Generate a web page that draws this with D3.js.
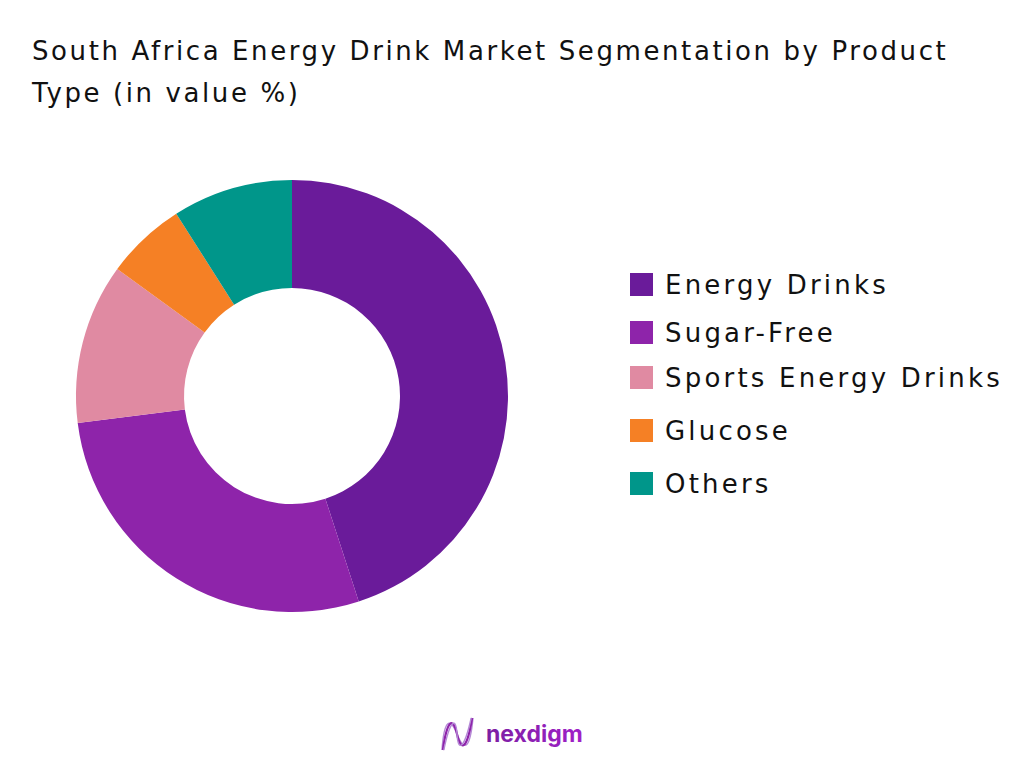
<!DOCTYPE html>
<html>
<head>
<meta charset="utf-8">
<script src="https://cdn.jsdelivr.net/npm/d3@7"></script>
<style>
  body { margin: 0; background: #fff; }
  svg { display: block; font-family: "DejaVu Sans", "Noto Sans", sans-serif; }
</style>
</head>
<body>
<div id="chart"></div>
<script>
// data
const categories = ["Energy Drinks", "Sugar-Free", "Sports Energy Drinks", "Glucose", "Others"];
const values = [45, 28, 12, 6, 9];
const colors = ["#6a1b9a", "#8e24aa", "#e08aa2", "#f58025", "#00968a"];
const titleLines = ["South Africa Energy Drink Market Segmentation by Product", "Type (in value %)"];

const width = 1024,
  height = 768;

const svg = d3
  .select("#chart")
  .append("svg")
  .attr("width", width)
  .attr("height", height);

// title
svg
  .selectAll("text.title")
  .data(titleLines)
  .enter()
  .append("text")
  .attr("class", "title")
  .attr("x", 32)
  .attr("y", (d, i) => 60 + i * 42)
  .style("font-size", "26px")
  .style("letter-spacing", "2.6px")
  .style("fill", "#111")
  .text((d) => d);

// donut
const color = d3.scaleOrdinal().domain(categories).range(colors);

const pie = d3.pie().sort(null).value((d) => d[1]);
const data_ready = pie(categories.map((c, i) => [c, values[i]]));

const arc = d3.arc().innerRadius(108).outerRadius(216);

const g = svg.append("g").attr("transform", "translate(292, 396)");

g.selectAll("path")
  .data(data_ready)
  .enter()
  .append("path")
  .attr("d", arc)
  .attr("fill", (d) => color(d.data[0]))
  .attr("stroke", "none");

// legend (rows are not evenly spaced in the original)
const legendY = [284, 332, 377, 430, 483];

const legend = svg
  .selectAll("g.legend")
  .data(categories)
  .enter()
  .append("g")
  .attr("class", "legend")
  .attr("transform", (d, i) => `translate(630, ${legendY[i]})`);

legend
  .append("rect")
  .attr("x", 0)
  .attr("y", -11)
  .attr("width", 23)
  .attr("height", 23)
  .style("fill", (d) => color(d));

legend
  .append("text")
  .attr("x", 35)
  .attr("y", 10)
  .style("font-size", "26px")
  .style("letter-spacing", "3.2px")
  .style("fill", "#111")
  .text((d) => d);

// logo
const defs = svg.append("defs");
const grad = defs
  .append("linearGradient")
  .attr("id", "logoGrad")
  .attr("x1", "0%")
  .attr("x2", "100%");
grad.append("stop").attr("offset", "0%").attr("stop-color", "#7b1fa2");
grad.append("stop").attr("offset", "100%").attr("stop-color", "#a020c8");

const logo = svg.append("g").attr("transform", "translate(440, 716)");
[0, 3, 6].forEach((o, i) => {
  logo
    .append("path")
    .attr("d", `M${2 + o * 0.3},34 C${4 + o},4 ${10 + o},0 ${17},18 S${30 - o},34 ${33 - o * 0.3},2`)
    .attr("fill", "none")
    .attr("stroke", i === 1 ? "#8e24aa" : "#b58ad6")
    .attr("stroke-width", i === 1 ? 2.2 : 1.4);
});
svg
  .append("text")
  .attr("x", 486)
  .attr("y", 742)
  .style("font-family", "Inter, sans-serif")
  .style("font-size", "23px")
  .style("font-weight", "700")
  .style("fill", "url(#logoGrad)")
  .text("nexdigm");
</script>
</body>
</html>
